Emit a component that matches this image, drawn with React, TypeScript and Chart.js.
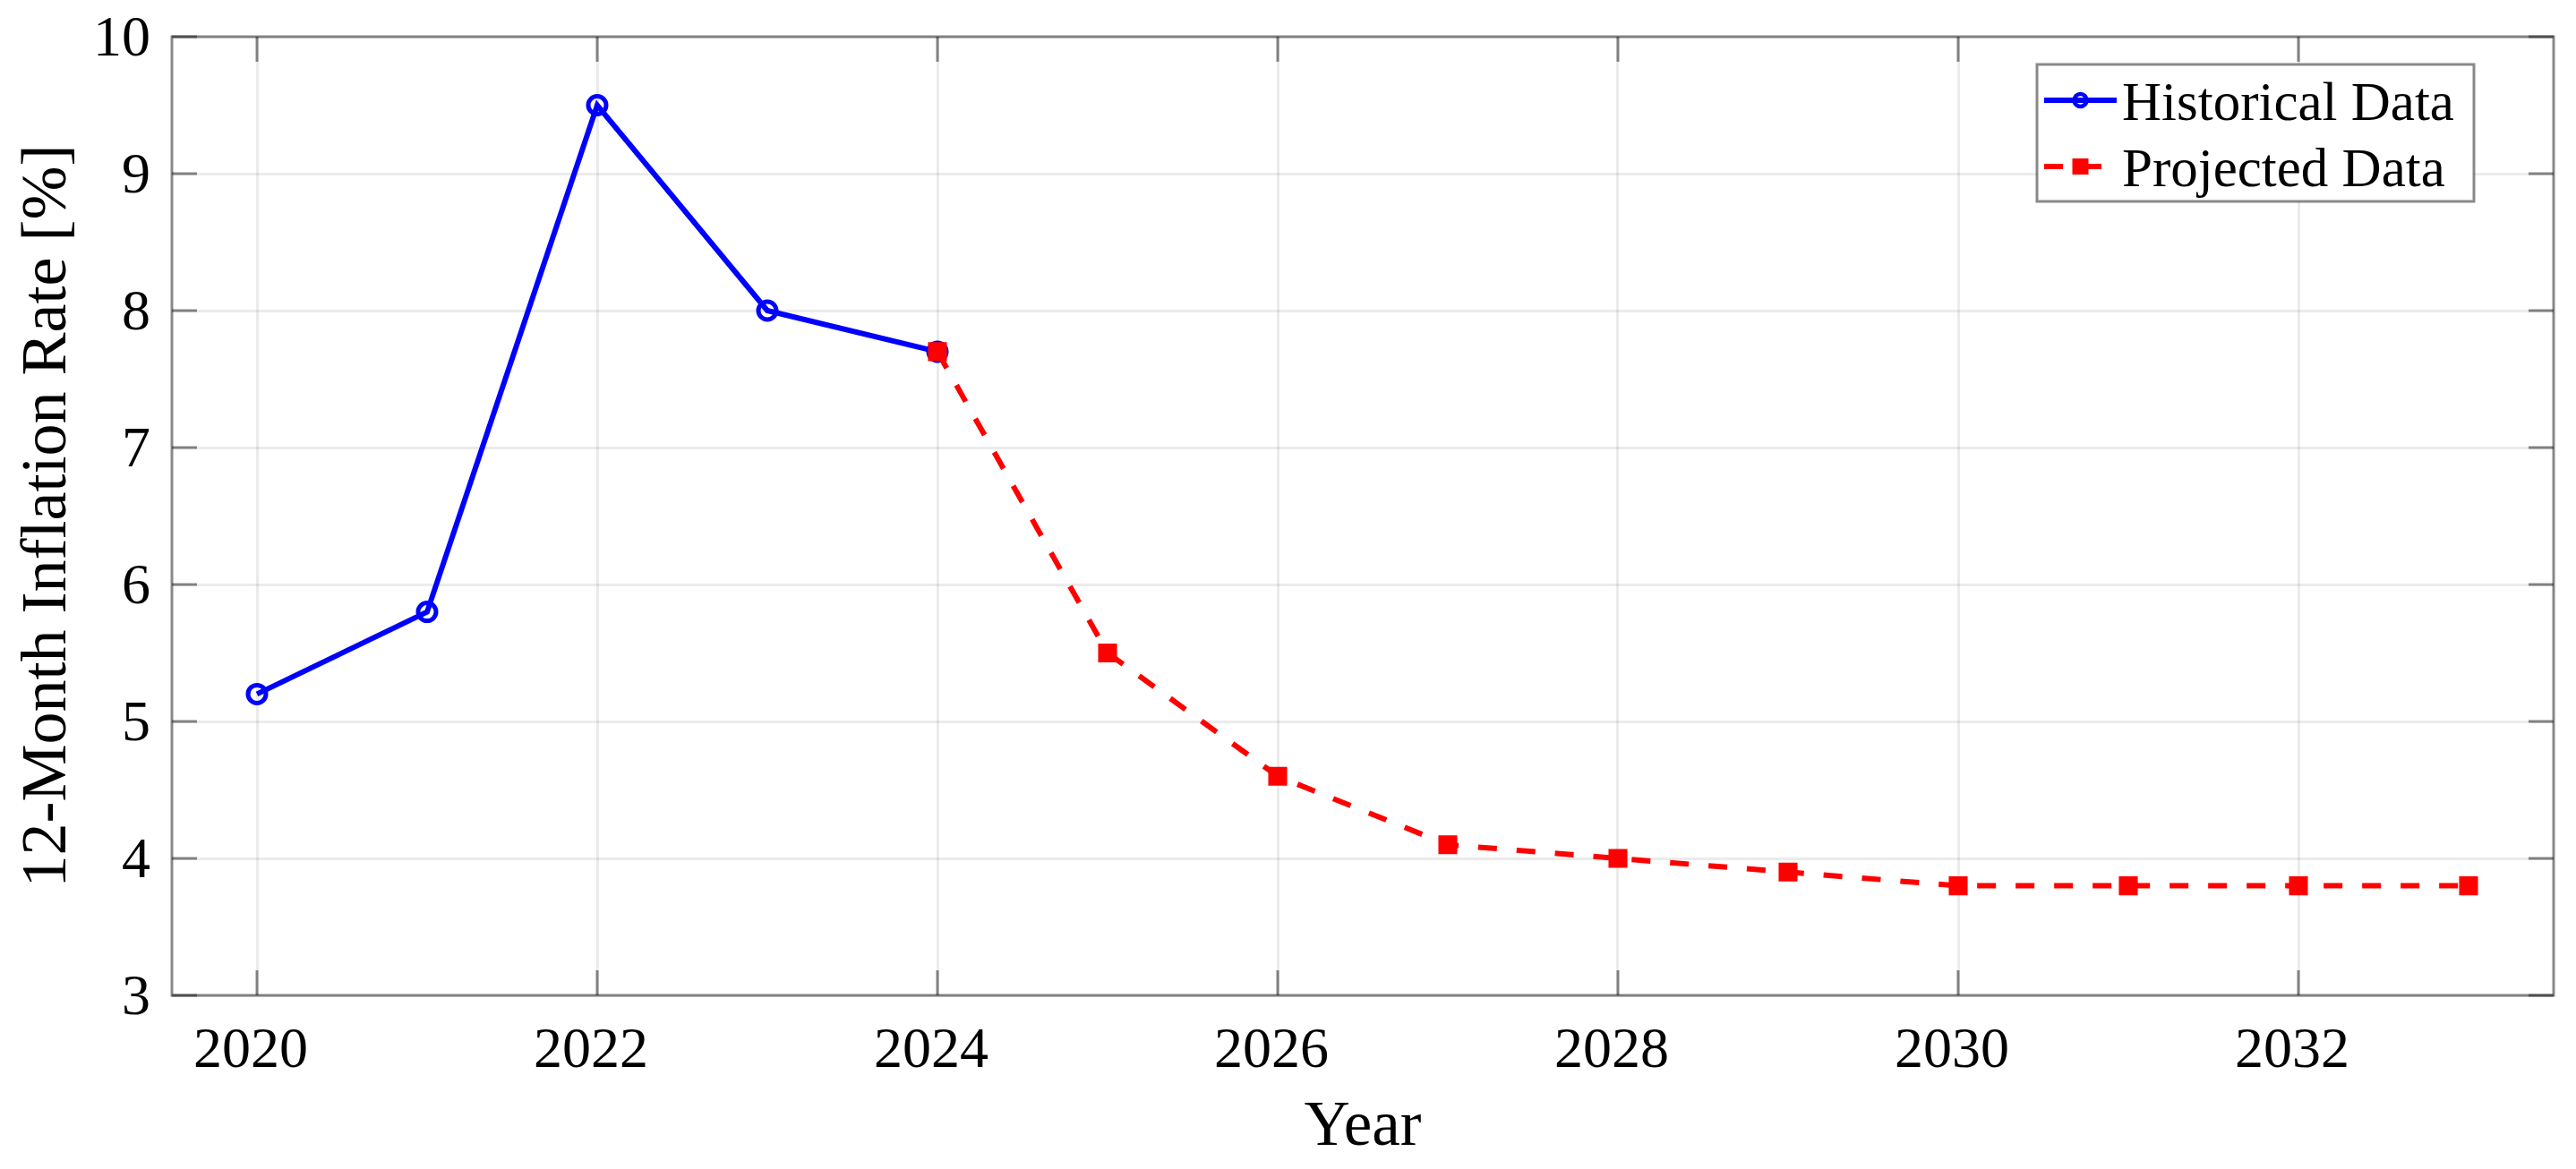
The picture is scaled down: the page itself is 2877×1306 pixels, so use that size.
import React, { useEffect, useRef } from 'react';
import { Chart, registerables } from 'chart.js';

Chart.register(...registerables);

const histYears = [2020, 2021, 2022, 2023, 2024];
const histValues = [5.2, 5.8, 9.5, 8.0, 7.7];
const projYears = [2024, 2025, 2026, 2027, 2028, 2029, 2030, 2031, 2032, 2033];
const projValues = [7.7, 5.5, 4.6, 4.1, 4.0, 3.9, 3.8, 3.8, 3.8, 3.8];
const xTicks = [2020, 2022, 2024, 2026, 2028, 2030, 2032];
const yTicks = [3, 4, 5, 6, 7, 8, 9, 10];
const seriesLabels = ['Historical Data', 'Projected Data'];
const xTitle = 'Year';
const yTitle = '12-Month Inflation Rate [%]';

const FAMILY = "'Liberation Serif', 'Times New Roman', serif";
const FRAME_COLOR = 'rgba(40,40,40,0.55)';
const GRID_COLOR = 'rgba(0,0,0,0.08)';

const framePlugin = {
  id: 'frame',
  beforeDatasetsDraw(chart: any) {
    const { ctx, chartArea, scales } = chart;
    const { left, right, top, bottom } = chartArea;
    const tl = 28;
    ctx.save();
    ctx.strokeStyle = FRAME_COLOR;
    ctx.lineWidth = 3;
    ctx.beginPath();
    scales.x.ticks.forEach((t: any) => {
      const px = scales.x.getPixelForValue(t.value);
      ctx.moveTo(px, bottom);
      ctx.lineTo(px, bottom - tl);
      ctx.moveTo(px, top);
      ctx.lineTo(px, top + tl);
    });
    scales.y.ticks.forEach((t: any) => {
      const py = scales.y.getPixelForValue(t.value);
      ctx.moveTo(left, py);
      ctx.lineTo(left + tl, py);
      ctx.moveTo(right, py);
      ctx.lineTo(right - tl, py);
    });
    ctx.stroke();
    ctx.strokeRect(left, top, right - left, bottom - top);
    ctx.restore();
  },
};

const legendPlugin = {
  id: 'matlabLegend',
  afterDraw(chart: any) {
    const { ctx, chartArea } = chart;
    const boxW = 488;
    const boxH = 153;
    const bx = chartArea.right - 89 - boxW;
    const by = chartArea.top + 31;
    ctx.save();
    ctx.fillStyle = '#ffffff';
    ctx.fillRect(bx, by, boxW, boxH);
    ctx.strokeStyle = FRAME_COLOR;
    ctx.lineWidth = 3;
    ctx.strokeRect(bx, by, boxW, boxH);
    chart.data.datasets.forEach((ds: any, i: number) => {
      const cy = by + 40 + i * 74;
      const x0 = bx + 8;
      const x1 = bx + 89;
      const mx = (x0 + x1) / 2;
      ctx.save();
      ctx.strokeStyle = ds.borderColor;
      ctx.lineWidth = ds.borderWidth;
      ctx.setLineDash(ds.borderDash || []);
      ctx.beginPath();
      ctx.moveTo(x0, cy);
      ctx.lineTo(x1, cy);
      ctx.stroke();
      ctx.setLineDash([]);
      if (ds.pointStyle === 'rect') {
        ctx.fillStyle = ds.pointBackgroundColor;
        ctx.fillRect(mx - 9, cy - 9, 18, 18);
      } else {
        ctx.strokeStyle = ds.pointBorderColor;
        ctx.lineWidth = 4.5;
        ctx.beginPath();
        ctx.arc(mx, cy, 7, 0, Math.PI * 2);
        ctx.stroke();
      }
      ctx.restore();
      ctx.fillStyle = '#000000';
      ctx.font = `61px ${FAMILY}`;
      ctx.textBaseline = 'alphabetic';
      ctx.textAlign = 'left';
      ctx.fillText(ds.label, bx + 95, cy + 22);
    });
    ctx.restore();
  },
};

export default function App() {
  const ref = useRef<HTMLCanvasElement>(null);

  useEffect(() => {
    if (!ref.current) return;
    const chart = new Chart(ref.current, {
      type: 'line',
      data: {
        datasets: [
          {
            label: seriesLabels[0],
            data: histYears.map((x, i) => ({ x, y: histValues[i] })),
            borderColor: '#0000ff',
            backgroundColor: '#0000ff',
            borderWidth: 6,
            pointStyle: 'circle',
            pointRadius: 10,
            pointBorderWidth: 5,
            pointBorderColor: '#0000ff',
            pointBackgroundColor: 'rgba(0,0,0,0)',
            tension: 0,
            fill: false,
            order: 1,
          },
          {
            label: seriesLabels[1],
            data: projYears.map((x, i) => ({ x, y: projValues[i] })),
            borderColor: '#ff0000',
            backgroundColor: '#ff0000',
            borderWidth: 6,
            borderDash: [21, 22],
            pointStyle: 'rect',
            pointRadius: 13.5,
            pointBorderWidth: 2,
            pointBorderColor: '#ff0000',
            pointBackgroundColor: '#ff0000',
            tension: 0,
            fill: false,
            order: 0,
          },
        ] as any,
      },
      options: {
        responsive: false,
        animation: false,
        layout: { padding: { top: 41, right: 25, left: 0, bottom: 0 } },
        plugins: {
          legend: { display: false },
          tooltip: { enabled: false },
        },
        scales: {
          x: {
            type: 'linear',
            min: 2019.5,
            max: 2033.5,
            afterBuildTicks: (s: any) => {
              s.ticks = xTicks.map((v) => ({ value: v }));
            },
            afterFit: (s: any) => {
              s.height = 194;
              s.paddingLeft = 0;
              s.paddingRight = 0;
            },
            grid: { color: GRID_COLOR, lineWidth: 3, drawTicks: false },
            border: { display: false },
            ticks: {
              callback: (v: any) => String(v),
              font: { family: FAMILY, size: 64, lineHeight: 1 },
              color: '#000000',
              padding: 31,
              labelOffset: -7,
              maxRotation: 0,
              autoSkip: false,
            },
            title: {
              display: true,
              text: xTitle,
              font: { family: FAMILY, size: 71, lineHeight: 1 },
              color: '#000000',
              padding: { top: 0, bottom: 10 },
            },
          },
          y: {
            type: 'linear',
            min: 3,
            max: 10,
            afterBuildTicks: (s: any) => {
              s.ticks = yTicks.map((v) => ({ value: v }));
            },
            afterFit: (s: any) => {
              s.width = 192;
              s.paddingTop = 0;
              s.paddingBottom = 0;
            },
            grid: { color: GRID_COLOR, lineWidth: 3, drawTicks: false },
            border: { display: false },
            ticks: {
              callback: (v: any) => String(v),
              font: { family: FAMILY, size: 64, lineHeight: 1 },
              color: '#000000',
              padding: 24,
              labelOffset: 4,
              autoSkip: false,
            },
            title: {
              display: true,
              text: yTitle,
              font: { family: FAMILY, size: 72, lineHeight: 1 },
              color: '#000000',
              padding: { top: 18, bottom: 0 },
            },
          },
        },
      } as any,
      plugins: [framePlugin, legendPlugin],
    });
    return () => chart.destroy();
  }, []);

  return (
    <canvas
      ref={ref}
      width={2877}
      height={1306}
      style={{ position: 'fixed', left: 0, top: 0, width: 2877, height: 1306, display: 'block', background: '#ffffff' }}
    />
  );
}
